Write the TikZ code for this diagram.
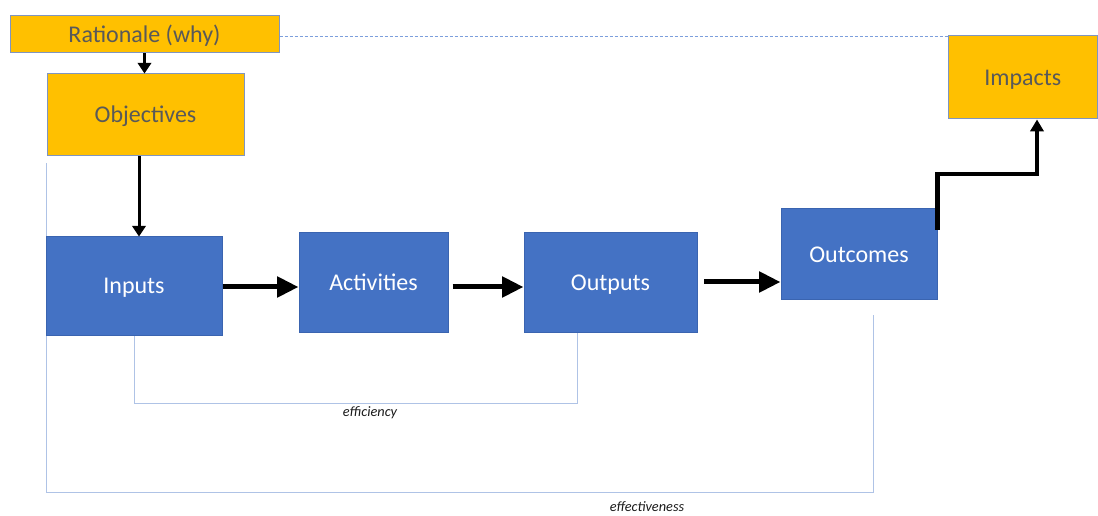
\documentclass[tikz,border=0pt]{standalone}
\usepackage{fontspec}
\setmainfont{Carlito}
\usetikzlibrary{arrows.meta,backgrounds}
\definecolor{gold}{HTML}{FFC000}
\definecolor{royal}{HTML}{4472C4}
\definecolor{royaledge}{HTML}{3A64B0}
\definecolor{goldedge}{HTML}{7F95C0}
\definecolor{labelgray}{HTML}{595959}
\definecolor{linkblue}{HTML}{AFC3E6}
\definecolor{dashblue}{HTML}{7C9EDC}
\definecolor{ink}{HTML}{1A1A1A}
\begin{document}
\begin{tikzpicture}[x=0.75pt,y=-0.75pt,
  box/.style={inner sep=0pt, line width=0.75pt, text height=11.6pt, text depth=0pt,
    font=\fontsize{18}{21}\selectfont},
  sz/.style 2 args={minimum width=#1*0.75pt, minimum height=#2*0.75pt},
  gbox/.style={box, fill=gold, draw=goldedge, text=labelgray},
  bbox/.style={box, fill=royal, draw=royaledge, text=white},
  flow/.style={line width=3.75pt, -{Triangle[length=16pt,width=15pt]}},
  thinflow/.style={line width=2.25pt, -{Triangle[length=8pt,width=10pt]}},
  stepflow/.style={line width=3.2pt, line join=miter, -{Triangle[length=9pt,width=10pt]}},
  link/.style={draw=linkblue, line width=0.75pt},
  dashline/.style={draw=dashblue, line width=0.75pt, dash pattern=on 2.25pt off 1.5pt},
  lab/.style={font=\itshape\fontsize{10.75}{13}\selectfont, text=ink, inner sep=0pt}]
\useasboundingbox (0,0) rectangle (1098,516);

% boxes
\node[gbox, sz={269}{37}] (rat) at (144.5,34.5) {Rationale (why)};
\node[gbox, sz={197}{82}] (obj) at (145.5,115) {Objectives};
\node[gbox, sz={149.5}{83}] (imp) at (1022.75,77.5) {Impacts};
\node[bbox, sz={176}{98}] (inp) at (134,286) {Inputs};
\node[bbox, sz={149}{99}] (act) at (373.5,282.5) {Activities};
\node[bbox, sz={173}{99}] (outp) at (610.5,282.5) {Outputs};
\node[bbox, sz={156}{91}] (outc) at (859,254.5) {Outcomes};

% helper coordinates for connector positions
\coordinate (k) at (139,0);
\coordinate (r1) at (0,287);
\coordinate (r2) at (0,282);
\coordinate (s) at (0,230);
\coordinate (t) at (1037,174);
\coordinate (d) at (0,37);
\coordinate (e1) at (577,403);
\coordinate (e2) at (873,492);

% main flow
\draw[thinflow] (rat.south) -- (rat.south |- obj.north);
\draw[thinflow] (obj.south -| k) -- (inp.north -| k);
\draw[flow] (inp.east |- r1) -- (act.west |- r1);
\draw[flow, shorten <=3pt] (act.east |- r1) -- (outp.west |- r1);
\draw[flow, shorten <=5pt] (outp.east |- r2) -- (outc.west |- r2);
\draw[stepflow] (outc.east |- s) |- (t) -- (imp.south -| t);

% rationale to impacts
\draw[dashline] (rat.east |- d) -- (imp.west |- d);

% measurement brackets
\begin{scope}[on background layer]
\draw[link] (inp.south) |- (e1) -- (e1 |- outp.south);
\draw[link, shorten <=5pt, shorten >=11pt] (obj.south west) |- (e2) -- (e2 |- outc.south);
\end{scope}

\node[lab] (effy) at (370,413) {efficiency};
\node[lab] (effn) at (647,507) {effectiveness};
\end{tikzpicture}
\end{document}
